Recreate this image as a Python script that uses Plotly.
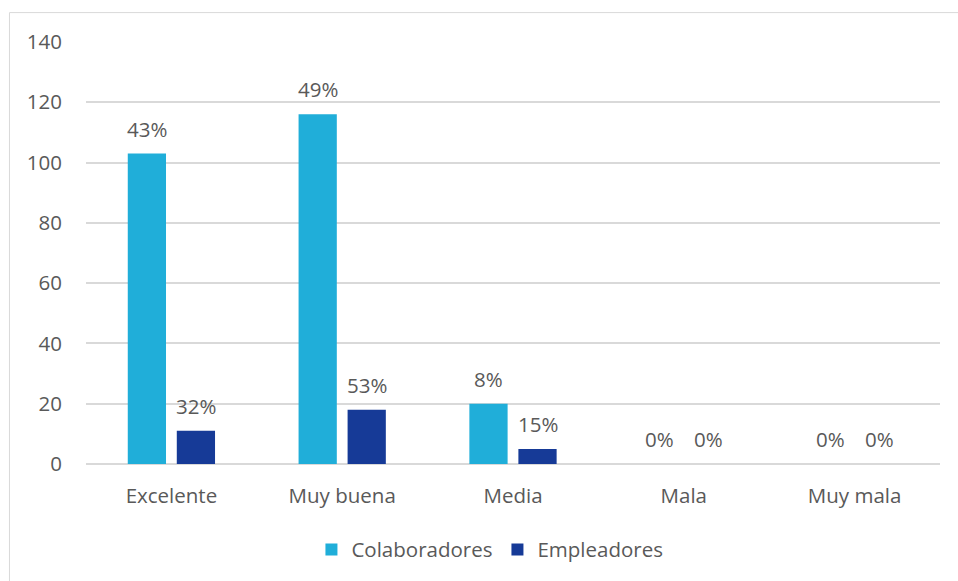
import plotly.graph_objects as go

categories = ["Excelente", "Muy buena", "Media", "Mala", "Muy mala"]
colaboradores = [103, 116, 20, 0, 0]
empleadores = [11, 18, 5, 0, 0]
y_ticks = [0, 20, 40, 60, 80, 100, 120, 140]

series = [
    ("Colaboradores", colaboradores, "#20AED9", -24.5),
    ("Empleadores", empleadores, "#163A97", 24.5),
]

FONT = "Open Sans"
SIZE = 20.5
TEXT = "#595959"
GRID = "#D9D9D9"

fig = go.Figure()
annotations = []
for name, vals, color, dx in series:
    fig.add_trace(go.Bar(
        x=categories, y=vals, name=name,
        marker=dict(color=color, line=dict(width=0)),
    ))
    total = sum(vals)
    for cat, v in zip(categories, vals):
        annotations.append(dict(
            x=cat, y=v, xref="x", yref="y",
            text=f"{round(v / total * 100)}%",
            showarrow=False, xshift=dx, yshift=25,
            yanchor="middle", xanchor="center",
            font=dict(family=FONT, size=SIZE, color=TEXT),
        ))

fig.update_layout(
    width=958, height=581,
    margin=dict(l=86, r=18, t=42, b=116),
    paper_bgcolor="white", plot_bgcolor="white",
    barmode="group", bargap=0.426, bargroupgap=0.22,
    font=dict(family=FONT, size=SIZE, color=TEXT),
    showlegend=True,
    legend=dict(
        orientation="h", x=0.473, xanchor="center", y=-0.2, yanchor="middle",
        font=dict(family=FONT, size=SIZE, color=TEXT),
        itemsizing="constant", traceorder="normal", itemwidth=30,
    ),
    annotations=annotations,
    shapes=[dict(
        type="rect", xref="paper", yref="paper",
        x0=-0.0896, x1=1.03, y0=-0.31, y1=1.0697,
        line=dict(color=GRID, width=1), fillcolor="rgba(0,0,0,0)", layer="below",
    )],
)
fig.update_xaxes(
    showgrid=False, showline=False, zeroline=False,
    ticks="", ticklabelstandoff=17,
    tickfont=dict(family=FONT, size=SIZE, color=TEXT),
)
fig.update_yaxes(
    range=[0, 140], tickvals=y_ticks, showgrid=True, gridcolor=GRID, gridwidth=1.5,
    zeroline=True, zerolinecolor=GRID, zerolinewidth=1.5, showline=False,
    ticks="", ticklabelstandoff=23,
    tickfont=dict(family=FONT, size=SIZE, color=TEXT),
)

fig.write_html("out.html")
